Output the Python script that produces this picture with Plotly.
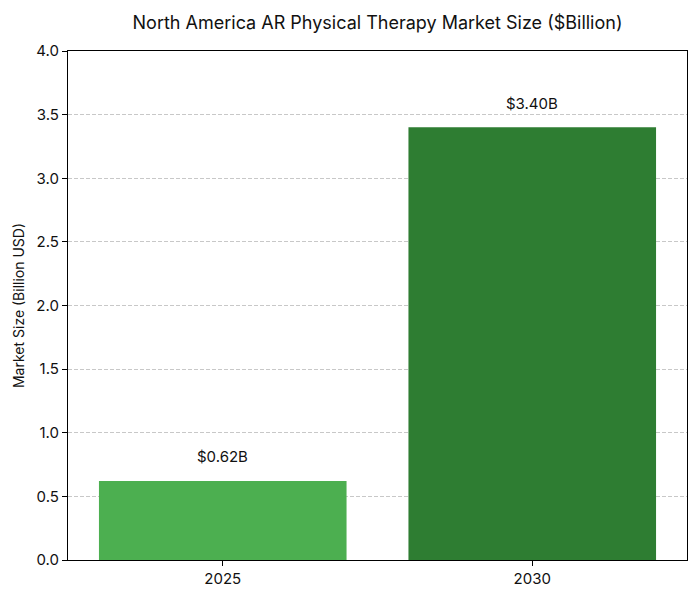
import plotly.graph_objects as go

years = ["2025", "2030"]
values = [0.62, 3.40]
labels = ["&#36;0.62B", "&#36;3.40B"]
colors = ["#4caf50", "#2e7d32"]

FONT = "Inter, Roboto, sans-serif"

fig = go.Figure()
fig.add_trace(go.Bar(x=years, y=values, marker=dict(color=colors, line=dict(width=0)),
                     hoverinfo="skip", showlegend=False))

for i, (v, lab) in enumerate(zip(values, labels)):
    fig.add_annotation(x=i, y=v + 0.1, xref="x", yref="y", text=lab, showarrow=False,
                       yanchor="bottom", font=dict(size=15, color="#111", family=FONT))

fig.update_layout(
    width=700, height=600,
    margin=dict(l=60, r=21, t=43, b=48),
    paper_bgcolor="white", plot_bgcolor="white",
    bargap=0.2,
    font=dict(family=FONT, color="#111"),
    title=dict(text="North America AR Physical Therapy Market Size ($Billion)",
               x=0.5, xref="paper", y=0.975, yref="container", yanchor="middle",
               font=dict(size=18, color="#111", family=FONT)),
    xaxis=dict(type="category", range=[-0.5, 1.5], showline=True, linecolor="black",
               linewidth=1.2, mirror=True, ticks="outside", ticklen=5, tickcolor="black",
               showgrid=False, tickfont=dict(size=15), automargin=False),
    yaxis=dict(range=[0, 4.0], dtick=0.5, tickformat=".1f", showline=True, linecolor="black",
               linewidth=1.2, mirror=True, ticks="outside", ticklen=5, tickcolor="black",
               showgrid=True, gridcolor="#c8c8c8", griddash="4px,2px", gridwidth=1,
               zeroline=False, tickfont=dict(size=15), automargin=False,
               title=dict(text="Market Size (Billion USD)", font=dict(size=14), standoff=8)),
)

fig.write_html("out.html")
